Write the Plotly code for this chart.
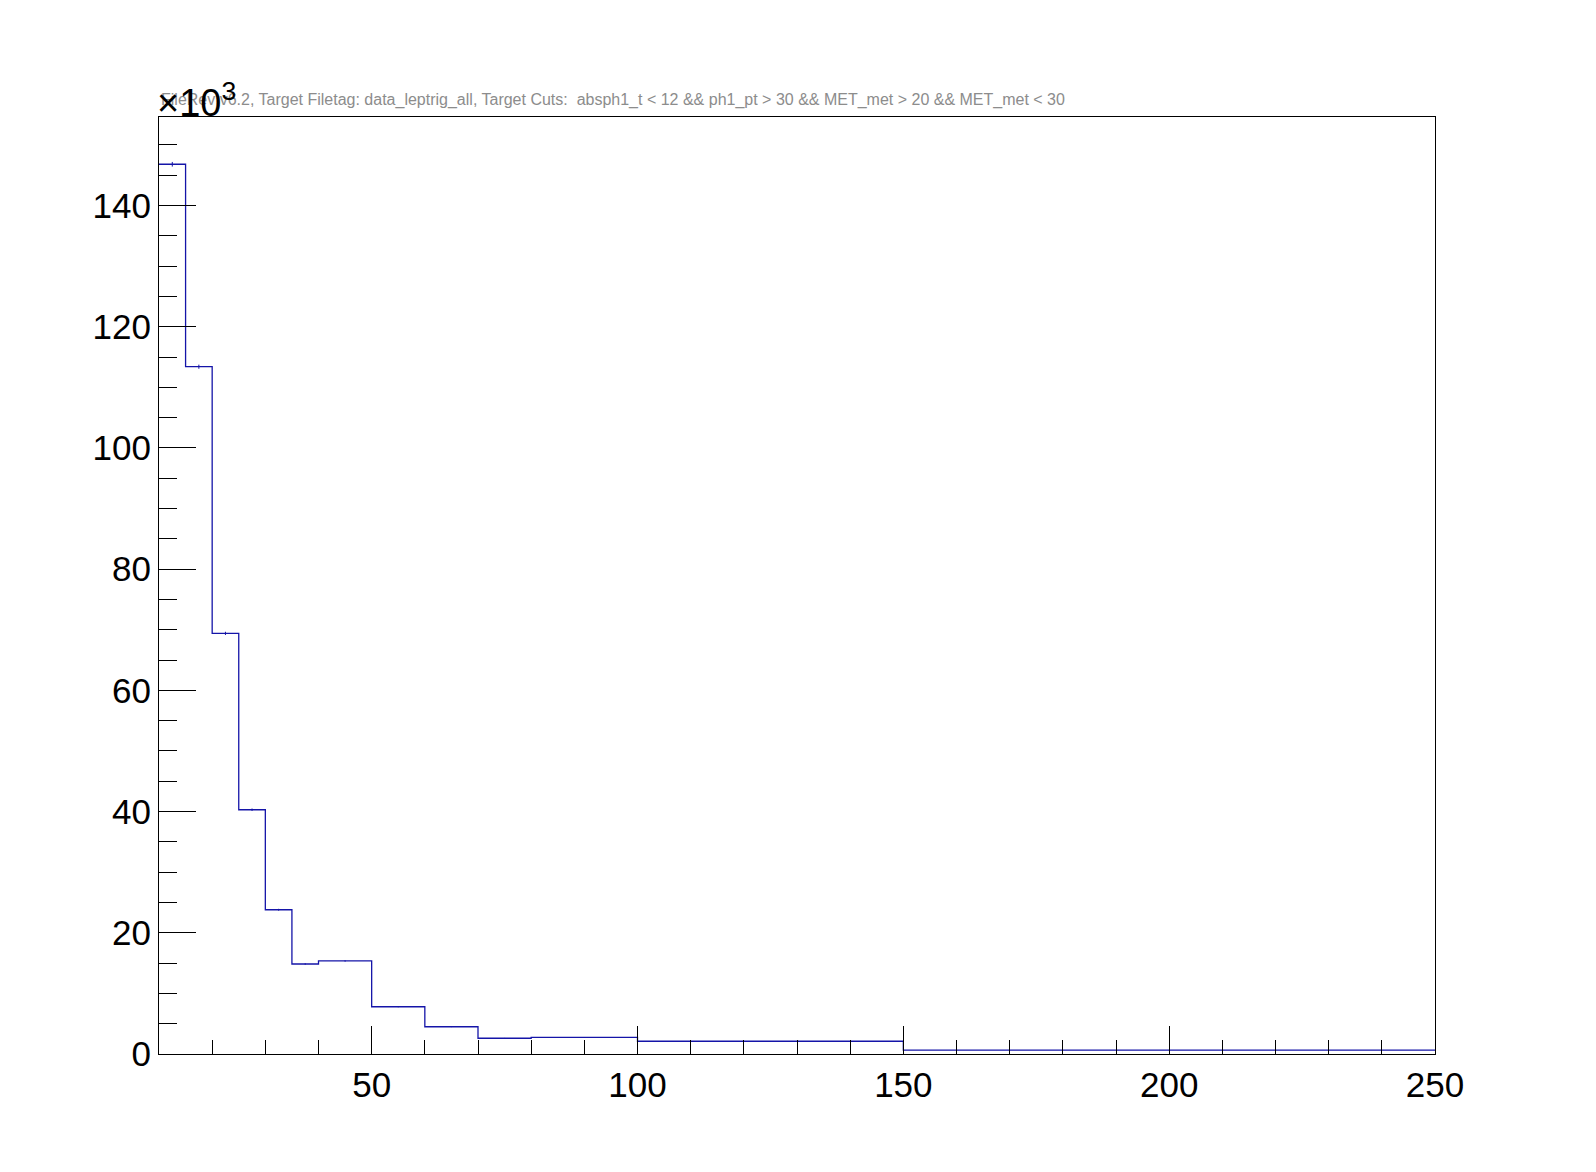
import numpy as np
import plotly.graph_objects as go

# bin edges and counts
bin_edges = [10, 15, 20, 25, 30, 35, 40, 50, 60, 70, 80, 100, 150, 250]
counts = [146800, 113400, 69400, 40300, 23800, 14850, 15350, 7800, 4500, 2600, 2750, 2100, 650]
y_tickvals = [0, 20000, 40000, 60000, 80000, 100000, 120000, 140000]
y_ticktext = ["0", "20", "40", "60", "80", "100", "120", "140"]
x_tickvals = [50, 100, 150, 200, 250]
title_text = ("FileRev v6.2, Target Filetag: data_leptrig_all, Target Cuts:  absph1_t < 12 "
              "&& ph1_pt > 30 && MET_met > 20 && MET_met < 30")

FONT = "Liberation Sans, Arial, Helvetica, sans-serif"
LINE = "#1414a8"

centers = [(bin_edges[i] + bin_edges[i + 1]) / 2 for i in range(len(counts))]
errs = list(np.sqrt(np.array(counts, dtype=float)))

fig = go.Figure()
fig.add_trace(go.Scatter(
    x=bin_edges, y=counts + [counts[-1]], mode="lines",
    line=dict(shape="hv", color=LINE, width=1.3), hoverinfo="skip", showlegend=False))
fig.add_trace(go.Scatter(
    x=centers, y=counts, mode="markers", marker=dict(size=0.1, color=LINE),
    error_y=dict(type="data", array=errs, visible=True, color=LINE, thickness=1, width=0),
    showlegend=False))

fig.update_layout(
    width=1596, height=1172,
    margin=dict(l=151, r=169, t=109, b=126),
    paper_bgcolor="white", plot_bgcolor="white",
    font=dict(family=FONT, color="black"),
    xaxis=dict(range=[10, 250], tickvals=x_tickvals, ticks="inside", ticklen=28, tickwidth=1,
               tickcolor="black", showline=True, linecolor="black", linewidth=1, mirror=True,
               showgrid=False, zeroline=False, tickfont=dict(size=35, family=FONT),
               minor=dict(dtick=10, tick0=0, ticks="inside", ticklen=14, tickwidth=1,
                          tickcolor="black", showgrid=False)),
    yaxis=dict(range=[0, 154600], tickvals=y_tickvals, ticktext=y_ticktext, ticks="inside",
               ticklen=37, tickwidth=1, tickcolor="black", showline=True, linecolor="black",
               linewidth=1, mirror=True, showgrid=False, zeroline=False,
               tickfont=dict(size=35, family=FONT),
               minor=dict(dtick=5000, tick0=0, ticks="inside", ticklen=18, tickwidth=1,
                          tickcolor="black", showgrid=False)),
    annotations=[
        dict(text=title_text, xref="paper", yref="paper", x=0, y=1, xanchor="left",
             yanchor="bottom", yshift=6, showarrow=False,
             font=dict(size=16, color="#8c8c8c", family=FONT)),
        dict(text="×10<sup>3</sup>", xref="paper", yref="paper", x=0, y=1, xanchor="left",
             yanchor="bottom", xshift=-4, yshift=-9, showarrow=False,
             font=dict(size=38, color="black", family=FONT)),
    ],
)

fig.write_html("out.html")
